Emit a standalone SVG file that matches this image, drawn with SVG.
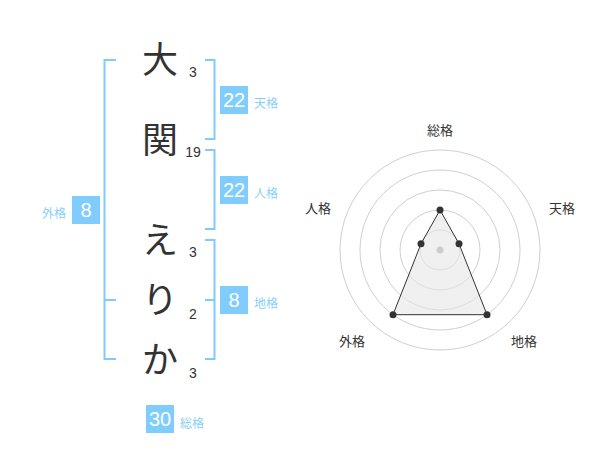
<svg xmlns="http://www.w3.org/2000/svg" width="600" height="470" viewBox="0 0 600 470">
<style>
.ch{font-family:"Noto Sans CJK JP","Noto Sans",sans-serif;font-size:36px;fill:#333;text-anchor:middle}
.st{font-family:"Liberation Sans",Arial,sans-serif;font-size:14px;fill:#333;text-anchor:middle}
.br{fill:none;stroke:#7fcbfb;stroke-width:2}
.bx{fill:#80cdfd}
.bv{font-family:"Liberation Sans",Arial,sans-serif;font-size:20px;fill:#fff;text-anchor:middle}
.bl{font-family:"Noto Sans CJK JP",sans-serif;font-size:12px;fill:#88cff8}
.ring{fill:none;stroke:#cfcfcf;stroke-width:1}
.ax{font-family:"Noto Sans CJK JP",sans-serif;font-size:13px;fill:#333;text-anchor:middle}
.pt{fill:#333}
</style>
<rect width="600" height="470" fill="#fff"/>
<g id="connectors">
<path class="br" d="M116,60 H104.5 V359 H116 M104.5,300 H116"/>
<path class="br" d="M205,60 H214.5 V139 H205"/>
<path class="br" d="M205,150 H214.5 V229 H205"/>
<path class="br" d="M205,240 H214.5 V359 H205 M205,300 H214.5"/>
</g>
<g id="char-1"><text class="ch" x="160" y="73">大</text><text class="st" x="193" y="77">3</text></g>
<g id="char-2"><text class="ch" x="160" y="153">関</text><text class="st" x="193" y="157">19</text></g>
<g id="char-3"><text class="ch" x="160" y="253">え</text><text class="st" x="193" y="257">3</text></g>
<g id="char-4"><text class="ch" x="160" y="313">り</text><text class="st" x="193" y="319">2</text></g>
<g id="char-5"><text class="ch" x="160" y="373">か</text><text class="st" x="193" y="378">3</text></g>
<g id="tenkaku"><rect class="bx" x="220" y="86" width="28" height="28"/><text class="bv" x="234" y="107">22</text><text class="bl" x="254" y="108">天格</text></g>
<g id="jinkaku"><rect class="bx" x="220" y="176" width="28" height="28"/><text class="bv" x="234" y="197">22</text><text class="bl" x="254" y="198">人格</text></g>
<g id="chikaku"><rect class="bx" x="220" y="286" width="28" height="28"/><text class="bv" x="234" y="307">8</text><text class="bl" x="254" y="308">地格</text></g>
<g id="gaikaku"><rect class="bx" x="72" y="196" width="28" height="28"/><text class="bv" x="86" y="217">8</text><text class="bl" x="66" y="218" text-anchor="end">外格</text></g>
<g id="soukaku"><rect class="bx" x="146" y="405" width="28" height="28"/><text class="bv" x="160" y="426">30</text><text class="bl" x="180" y="428">総格</text></g>
<g id="radar">
<circle class="ring" cx="440" cy="250" r="20"/>
<circle class="ring" cx="440" cy="250" r="40"/>
<circle class="ring" cx="440" cy="250" r="60"/>
<circle class="ring" cx="440" cy="250" r="80"/>
<circle class="ring" cx="440" cy="250" r="100"/>
<polygon points="440,210 459,243.8 487,314.7 393,314.7 421,243.8" fill="#e6e6e6" fill-opacity="0.6" stroke="#333" stroke-width="1"/>
<circle cx="440" cy="250" r="3.5" fill="#ccc"/>
<circle class="pt" cx="440" cy="210" r="3.5"/>
<circle class="pt" cx="459" cy="243.8" r="3.5"/>
<circle class="pt" cx="487" cy="314.7" r="3.5"/>
<circle class="pt" cx="393" cy="314.7" r="3.5"/>
<circle class="pt" cx="421" cy="243.8" r="3.5"/>
<text class="ax" x="440" y="135">総格</text>
<text class="ax" x="562" y="213">天格</text>
<text class="ax" x="318" y="213">人格</text>
<text class="ax" x="352" y="346">外格</text>
<text class="ax" x="524" y="346">地格</text>
</g>
</svg>
